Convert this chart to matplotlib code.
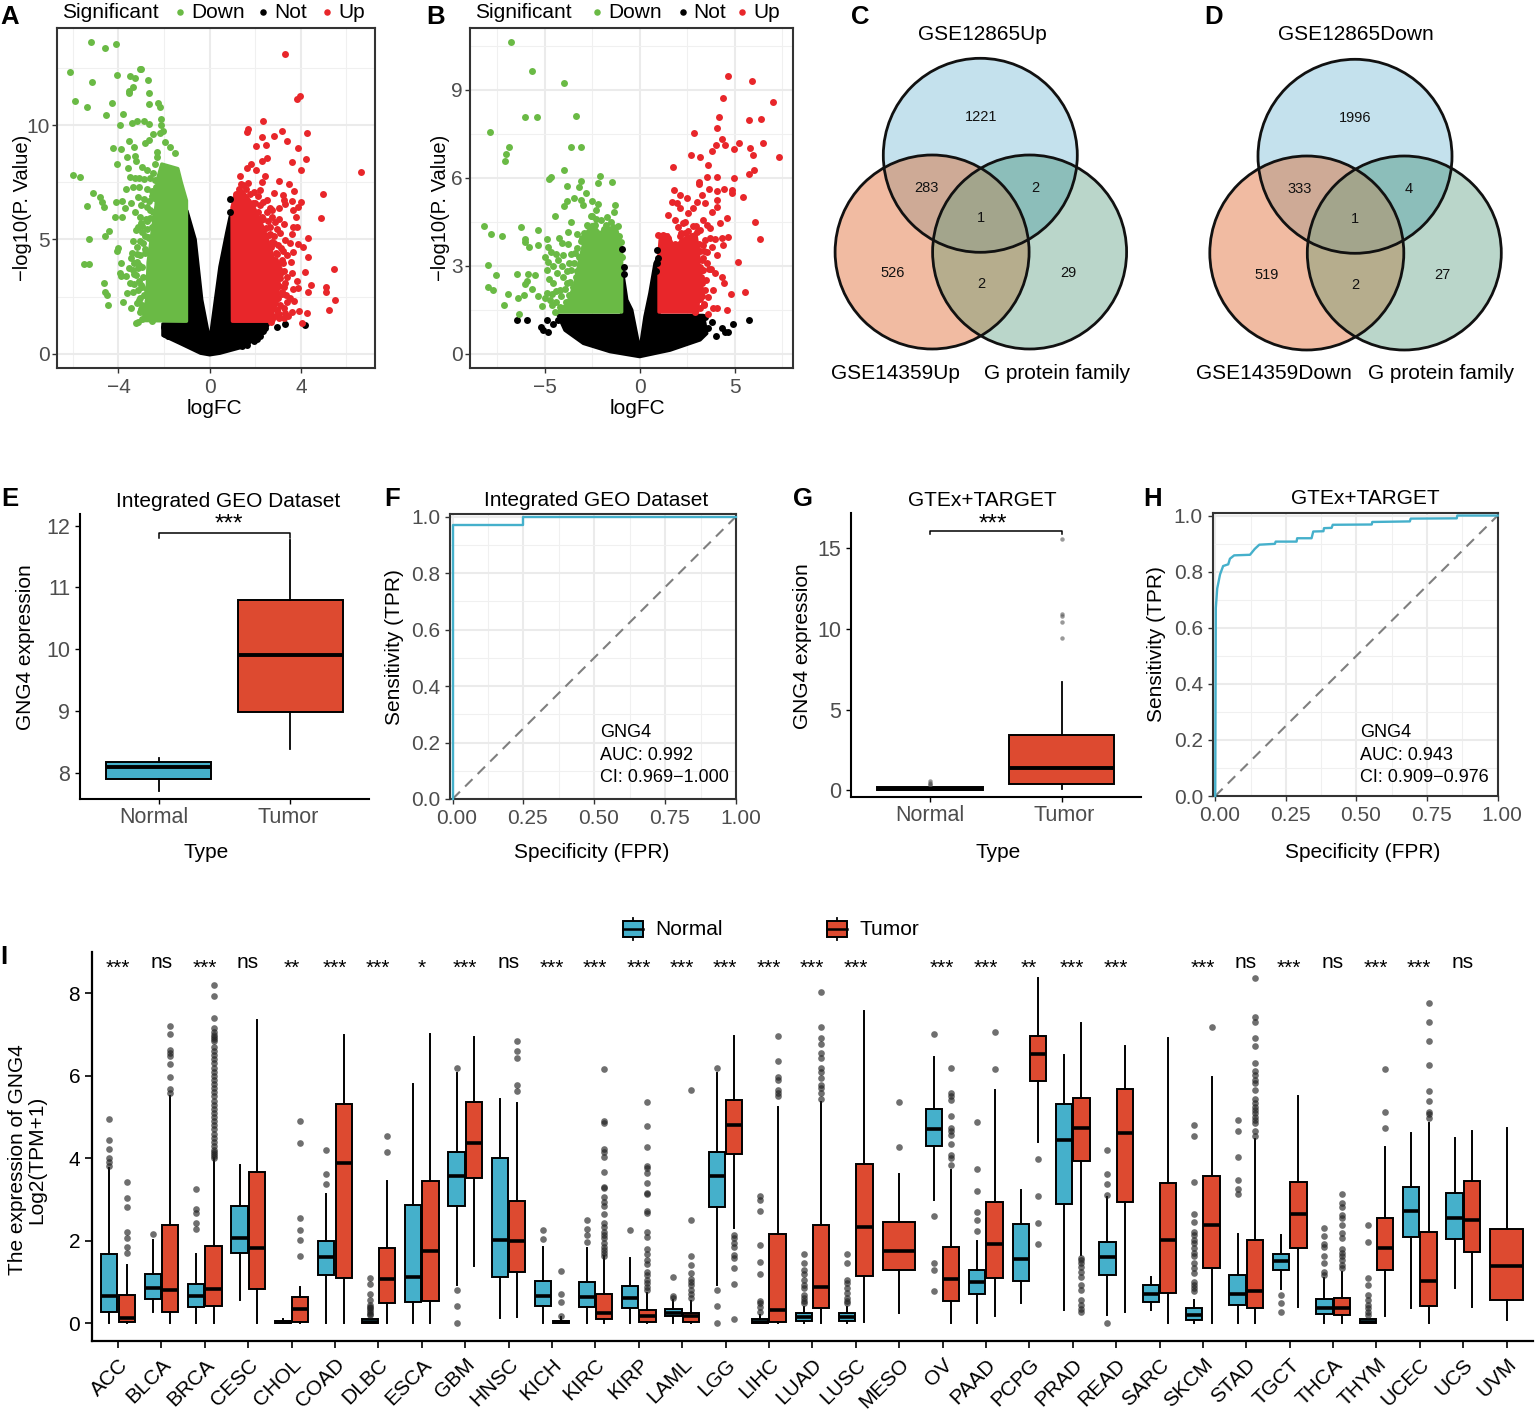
import numpy as np
import matplotlib
matplotlib.use("Agg")
from matplotlib import pyplot as plt
from matplotlib.patches import Circle, Rectangle
from matplotlib.transforms import ScaledTranslation

plt.rcParams['font.family'] = ['Liberation Sans', 'DejaVu Sans']

W, H = 1537, 1418
FS = 15
GREY = '#4d4d4d'
BLUE = '#45b0cb'
RED = '#dd4a30'
V_GREEN = '#6aba45'
V_RED = '#e8262a'

# panel A, single points that can be read
a_down_x = [-5.21,-4.57,-4.11,-6.13,-5.18,-4.07,-3.06,-3.0,-3.5,-3.27,-2.71,-5.89,-5.36,-4.3,-4.55,-3.81,-3.35,-3.53,-3.56,-2.66,-2.68,-2.25,-2.2,-2.15,-3.92,-3.4,-3.18,-2.9,-2.68,-2.12,-2.04,-2.18,-2.5,-2.65,-2.84,-3.53,-3.32,-4.23,-3.88,-1.96,-1.74,-1.52,-2.33,-3.62,-3.29,-3.24,-4.08,-2.99,-3.57,-2.77,-3.5,-3.28,-5.99,-5.7,-5.11,-4.79,-4.74,-4.64,-5.37,-4.11,-3.84,-3.72,-4.16,-3.84,-3.69,-3.35,-3.09,-3.13,-3.43,-3.28,-3.06,-2.77,-3.24,-2.99,-5.3,-4.58,-4.42,-4.01,-4.08,-5.52,-5.31,-3.87,-3.47,-3.38,-3.21,-2.91,-3.94,-3.88,-3.35,-3.13,-2.91,-3.5,-4.64,-4.58,-4.49,-4.47,-3.62,-3.79,-3.43,-3.09,-3.06,-3.13,-3.24,-2.55,-2.77,-2.99,-2.4,-2.55,-2.62,-2.75,-2.7,-2.85,-2.35,-2.5,-2.45,-2.3,-2.42,-2.55,-2.85,-3.02,-3.18,-3.3,-2.95,-2.65,-2.8,
            -2.3,-2.4,-2.5,-2.6,-2.35,-2.55,-2.75,-2.9,-3.1,-2.45,-2.65,-2.9,-3.0,-2.5,-2.62,-2.8,-3.0,-3.15,-2.55,-2.75,-2.85,-2.65,-3.05,-3.2,-3.05,-2.85,-3.4,-3.3,-3.1,-2.95,-3.55,-3.65,-3.25,-3.1,-3.3,-3.15,-3.35,-2.9,-3.05,-3.2,-2.95,-3.0,-2.85,-2.75,-2.95]
a_down_y = [13.64,13.4,13.58,12.34,11.91,12.2,12.47,12.45,12.16,12.07,11.99,11.05,10.8,10.98,10.47,10.48,11.69,11.52,11.4,11.4,10.95,10.96,10.79,10.29,10.03,10.12,10.18,10.2,10.06,10.01,9.77,9.65,9.61,9.36,9.24,9.33,9.07,9.02,8.96,9.28,9.04,8.77,8.85,8.61,8.66,8.44,8.32,8.19,8.12,8.04,7.75,7.68,7.84,7.72,7.02,6.85,6.66,6.41,6.48,6.63,6.69,6.36,5.99,5.99,7.21,7.28,7.31,6.88,6.61,6.22,6.0,6.44,5.42,5.34,5.02,5.14,5.37,4.61,4.51,3.94,3.94,3.96,4.18,4.95,4.69,4.83,3.52,3.4,3.66,3.74,3.37,3.08,3.09,2.7,2.58,2.12,2.64,2.28,1.99,2.35,1.84,1.4,1.33,1.45,2.79,2.93,7.6,6.9,6.3,5.8,5.1,4.6,4.2,3.7,3.2,2.7,2.3,1.9,2.1,3.0,4.0,3.5,5.6,1.7,2.55,
            8.6,8.3,7.9,7.7,7.3,7.1,7.2,7.65,7.7,6.8,6.7,6.75,6.5,6.2,5.95,5.9,5.7,5.55,5.55,5.45,5.15,5.05,4.95,4.35,4.3,4.4,4.4,3.95,3.9,3.8,3.75,3.4,3.45,3.2,3.05,2.8,2.7,2.55,2.45,2.2,2.15,1.95,1.75,1.6,1.5]
a_up_x = [3.31,3.94,3.82,6.62,2.34,1.7,1.65,2.31,2.83,3.15,3.37,4.28,2.05,2.46,3.87,2.5,2.31,3.6,4.23,1.8,1.63,2.02,4.01,1.33,2.43,2.28,3.05,3.48,1.38,1.7,2.21,1.95,2.8,3.7,3.21,4.99,3.26,3.63,2.5,4.0,3.31,2.21,1.99,2.65,3.02,3.67,3.89,4.89,3.79,2.24,2.72,3.02,3.24,3.67,3.85,3.6,2.65,2.83,3.31,4.29,3.87,3.53,4.08,3.13,3.67,4.33,3.38,3.57,5.46,3.21,4.19,3.6,3.38,3.82,4.44,3.24,3.89,5.11,5.08,4.29,3.67,3.16,3.53,5.48,3.38,2.8,5.23,3.6,3.92,4.26,3.31,2.94,3.24,4.04,3.06,2.68,2.1,2.35,2.6,2.75,2.9,3.0,2.85,3.1,2.95,3.15,2.7,
          1.3,1.15,1.45,1.6,1.75,1.55,1.9,2.1,2.35,2.5,2.75,2.3,2.55,2.85,2.45,2.95,3.1,2.65,2.8,3.0,3.2,2.7,2.95,3.15,2.95,3.05,3.25,3.1,3.3,3.05,3.15,3.35,3.0,3.1,3.25,2.95,2.85,3.05,2.75,3.45,3.7]
a_up_y = [13.11,11.3,11.14,7.96,10.18,9.84,9.72,9.5,9.53,9.77,9.31,9.65,9.09,9.14,9.02,8.55,8.44,8.38,8.53,8.29,8.12,8.04,8.04,7.8,7.8,7.53,7.55,7.43,7.43,7.46,7.17,7.09,7.02,7.12,6.95,6.99,6.73,6.69,6.73,6.66,6.55,6.51,6.58,6.36,6.36,6.29,6.44,5.96,5.99,5.85,6.0,5.88,5.68,5.56,5.56,5.23,5.56,5.15,4.98,5.08,4.8,4.83,4.69,4.61,4.47,4.22,4.32,4.03,3.69,3.96,3.59,3.55,3.37,3.2,3.01,2.93,2.86,2.93,2.72,2.72,2.82,2.64,2.42,2.35,2.28,2.2,1.91,1.84,1.87,1.8,1.77,1.91,1.55,1.36,1.55,1.4,6.2,5.9,5.2,4.9,4.4,3.9,4.1,3.5,3.1,2.6,3.7,
          7.2,7.0,7.4,7.2,7.0,6.8,6.6,6.9,6.65,6.2,6.3,6.0,5.8,5.75,5.5,5.45,5.3,5.25,4.85,4.75,4.5,4.65,4.35,4.1,3.95,3.7,3.6,3.3,3.1,2.95,2.7,2.55,2.45,2.15,2.0,1.9,1.65,1.75,1.5,1.65,2.3]
a_not_x = [4.16,3.31,2.97,2.06,1.63,2.43,0.89,0.89,-2.0,-1.95,-1.85,2.35,2.2,1.95,1.4]
a_not_y = [1.26,1.28,1.18,0.63,0.38,1.11,6.76,6.2,1.15,0.85,0.75,1.0,0.75,0.55,0.35]

# panel A, saturated areas: outline of each blob
a_green_x = [-1.02,-1.02,-1.25,-1.4,-2.1,-2.3,-2.35,-2.5,-2.7,-2.75,-2.9,-1.02]
a_green_y = [1.42,6.7,7.5,8.1,8.3,7.6,6.5,5.5,4.0,2.5,1.45,1.42]
a_red_x = [1.0,0.98,1.1,1.45,1.9,2.4,2.7,3.0,3.0,2.6,1.0]
a_red_y = [1.42,6.4,6.9,7.1,6.5,5.4,4.5,3.5,2.35,1.42,1.42]
a_black_x = [-2.05,-1.02,-1.0,-0.64,-0.35,-0.03,0.03,0.45,0.75,0.9,0.98,1.0,2.58,2.35,1.48,0.45,0,-0.4,-1.3,-2.05]
a_black_y = [1.3,1.3,6.25,5.0,2.35,0.7,0.7,3.8,5.3,6.0,6.1,1.3,1.3,0.9,0.3,0.02,-0.05,0.02,0.45,0.8]

# panel B, single points
b_down_x = [-6.77,-5.68,-3.98,-6.04,-5.4,-3.37,-7.86,-6.88,-7.02,-7.11,-3.63,-3.11,-4.0,-4.67,-4.79,-2.11,-3.07,-2.21,-1.47,-3.81,-3.18,-2.84,-3.44,-3.11,-3.84,-3.98,-2.96,-2.51,-2.18,-1.32,-1.35,-2.3,-4.44,-2.58,-1.74,-3.61,-8.19,-6.23,-5.33,-7.84,-7.23,-3.77,-3.32,-4.88,-6.04,-6.02,-5.84,-5.33,-4.23,-4.11,-3.75,-4.81,-4.67,-4.42,-4.98,-4.81,-4.02,-3.4,-3.14,-2.96,-3.7,-7.98,-7.56,-6.47,-5.86,-5.49,-5.95,-6.02,-7.96,-7.74,-5.65,-6.93,-6.07,-6.39,-5.33,-4.89,-4.63,-4.98,-4.72,-7.14,-5.12,-4.4,-6.37,-4.44,-3.93,-4.37,-4.02,-4.54,-3.84,-4.19,-3.49,-3.32,-3.05,-2.79,-3.49,-1.5,-1.15,-2.05,-2.35,-2.7,
            -1.1,-1.4,-1.75,-1.9,-2.3,-2.5,-2.75,-2.95,-3.1,-3.3,-3.2,-3.45,-3.6,-3.35,-3.85,-4.1,-3.65,-3.95,-4.15,-3.7,-4.4,-4.55,-4.6,-4.2,-3.9,-4.75,-4.9,-4.3,-3.6,-2.55,-1.0,-0.95]
b_down_y = [10.61,9.63,9.24,8.07,8.07,8.11,7.55,7.05,6.82,6.56,7.06,7.05,6.26,6.02,5.95,6.06,5.9,5.81,5.86,5.72,5.69,5.47,5.3,5.24,5.2,5.03,5.07,5.2,5.1,5.05,4.84,4.88,4.69,4.7,4.67,4.5,4.35,4.3,4.22,4.08,4.01,4.16,4.07,3.91,3.92,3.81,3.65,3.69,3.93,3.78,3.73,3.63,3.45,3.4,3.28,3.14,3.35,3.42,3.31,3.14,3.08,3.01,2.68,2.72,2.72,2.67,2.49,2.38,2.27,2.16,2.19,2.02,2.01,1.91,1.97,2.08,2.02,1.89,1.83,1.66,1.63,1.77,1.34,1.43,1.55,2.74,2.62,2.97,2.4,2.17,2.28,2.8,3.93,4.1,2.06,4.5,4.35,4.55,4.4,4.35,
            4.0,4.3,4.4,4.25,4.6,4.7,4.4,4.1,3.85,3.6,3.3,3.1,2.85,2.6,2.8,3.0,2.45,2.2,1.95,2.0,2.15,2.4,1.65,1.6,1.75,2.55,2.85,3.2,3.4,4.25,3.8,3.3]
b_up_x = [4.67,5.91,4.39,7.0,4.16,5.75,6.4,4.05,2.84,4.33,5.23,6.47,4.0,4.51,3.82,4.96,5.81,2.72,3.18,5.96,7.33,3.58,1.74,6.0,5.75,3.56,4.05,3.12,3.14,4.96,1.81,3.67,4.09,4.44,4.84,4.86,2.12,3.26,2.47,5.42,4.05,1.68,1.95,3.0,3.44,4.05,2.12,2.82,3.79,6.05,1.51,1.86,2.56,4.58,3.35,4.23,2.3,3.7,2.56,3.0,6.32,4.67,4.32,3.44,0.98,3.79,4.4,3.35,4.05,5.19,3.26,3.67,3.96,4.35,4.44,3.26,3.44,3.88,5.54,4.79,3.61,3.18,3.84,4.05,4.58,3.61,2.91,1.35,1.2,1.55,2.2,2.95,3.2,3.35,3.55,3.15,3.25,3.4,
          1.15,1.25,1.5,1.6,1.85,2.1,2.25,2.4,2.6,2.75,2.9,3.1,3.2,3.3,3.4,3.15,3.25,3.35,3.5,3.15,3.3,3.15,3.4,3.55,3.75,3.55,3.7,3.95,2.8,2.4,2.0]
b_up_y = [9.45,9.31,8.72,8.59,8.05,7.95,7.99,7.69,7.51,7.31,7.17,7.17,7.1,7.1,6.92,6.98,7.02,6.76,6.69,6.76,6.7,6.42,6.35,6.25,6.13,6.01,6.01,5.86,5.78,5.97,5.59,5.61,5.55,5.6,5.58,5.49,5.41,5.41,5.3,5.35,5.24,5.18,5.13,5.18,5.15,5.01,4.95,4.95,4.84,4.47,4.73,4.56,4.78,4.61,4.56,4.44,4.44,4.27,4.18,4.16,3.9,3.99,3.93,3.88,4.05,3.65,3.7,3.25,3.36,3.14,2.85,2.88,2.74,2.62,2.42,2.4,2.17,2.17,2.1,2.03,1.94,1.55,1.55,1.57,1.5,1.34,1.41,3.85,3.95,3.6,4.1,4.35,4.2,3.7,3.45,2.8,2.1,1.7,
          3.95,4.05,3.95,3.7,3.75,4.0,3.85,4.1,3.95,4.0,3.7,3.75,3.5,3.2,3.5,2.95,2.6,2.85,2.5,2.25,1.95,1.85,1.65,3.1,2.9,4.4,3.95,3.9,4.35,4.5,4.3]
b_not_x = [-0.95,0.89,0.98,-6.47,-5.91,-4.89,-5.21,-5.07,-4.81,-4.54,5.77,4.93,3.79,4.32,4.49,4.67,4.0,3.44,3.61,-0.85,-0.8,0.9,0.85,-4.3]
b_not_y = [3.56,3.53,3.25,1.14,1.13,1.15,0.92,0.81,0.73,1.01,1.14,1.0,1.09,0.86,0.75,0.73,0.6,1.26,0.86,2.95,2.7,3.1,2.8,1.15]

b_green_x = [-0.95,-0.95,-1.2,-1.7,-2.1,-2.5,-2.85,-3.15,-3.4,-3.8,-4.3,-0.95]
b_green_y = [1.42,3.5,4.2,4.3,4.1,4.4,4.0,3.2,2.4,1.7,1.42,1.42]
b_red_x = [1.02,1.02,1.1,1.5,1.8,2.3,2.95,3.1,3.15,3.05,1.02]
b_red_y = [1.42,3.4,4.05,4.05,3.6,3.9,4.1,3.5,2.4,1.42,1.42]
b_black_x = [-4.28,-0.95,-0.95,-0.68,-0.42,-0.07,0.07,0.28,0.54,0.81,0.98,1.02,3.35,3.53,3.18,1.6,0,-1.56,-2.96,-3.93]
b_black_y = [1.3,1.3,3.0,1.83,1.49,0.35,0.35,1.26,2.06,3.08,3.3,1.3,1.3,0.69,0.47,0.12,-0.1,0.07,0.35,0.8]

# panels C and D
venn_c_counts = ['1221', '283', '2', '1', '526', '2', '29']
venn_d_counts = ['1996', '333', '4', '1', '519', '2', '27']

# panel E
e_labels = ['Normal', 'Tumor']
e_q1 = [7.89, 8.99]
e_med = [8.1, 9.91]
e_q3 = [8.17, 10.8]
e_lo = [7.7, 8.38]
e_hi = [8.24, 11.77]

# panel G
g_q1 = [0.03, 0.39]
g_med = [0.1, 1.39]
g_q3 = [0.17, 3.42]
g_lo = [0.0, 0.05]
g_hi = [0.2, 6.69]
g_out_normal = [0.3, 0.38, 0.45, 0.55]
g_out_tumor = [9.42, 10.43, 10.83, 10.95, 15.61]

# ROC curves
f_fpr = [0, 0, 0.25, 0.25, 1]
f_tpr = [0, 0.969, 0.969, 1.0, 1.0]
h_fpr = [0, 0.002, 0.007, 0.017, 0.028, 0.046, 0.052, 0.067, 0.123, 0.14, 0.156, 0.211, 0.214, 0.288, 0.29, 0.341, 0.347, 0.383, 0.385, 0.412, 0.416, 0.554, 0.556, 0.689, 0.692, 0.855, 0.857, 1]
h_tpr = [0, 0.67, 0.74, 0.79, 0.82, 0.826, 0.846, 0.858, 0.86, 0.881, 0.896, 0.899, 0.907, 0.907, 0.919, 0.919, 0.943, 0.944, 0.955, 0.956, 0.967, 0.968, 0.977, 0.979, 0.989, 0.99, 1.0, 1.0]

# panel I
cancers = ['ACC','BLCA','BRCA','CESC','CHOL','COAD','DLBC','ESCA','GBM','HNSC','KICH','KIRC','KIRP','LAML','LGG','LIHC','LUAD','LUSC','MESO','OV','PAAD','PCPG','PRAD','READ','SARC','SKCM','STAD','TGCT','THCA','THYM','UCEC','UCS','UVM']
sig = ['***','ns','***','ns','**','***','***','*','***','ns','***','***','***','***','***','***','***','***','','***','***','**','***','***','','***','ns','***','ns','***','***','ns','']
nan = float('nan')
n_q1 = [.27,.59,.4,1.71,0,1.16,0,.52,2.84,1.11,.43,.4,.37,.18,2.83,0,.05,.05,nan,4.3,.72,1.03,2.89,1.16,.51,.07,.45,1.29,.22,0,2.08,2.04,nan]
n_med = [.65,.86,.67,2.06,.02,1.6,.02,1.11,3.57,2.02,.66,.63,.62,.26,3.56,.02,.15,.16,nan,4.72,.99,1.55,4.44,1.6,.72,.19,.72,1.5,.38,.02,2.71,2.56,nan]
n_q3 = [1.69,1.2,.95,2.84,.05,2.0,.1,2.87,4.16,4.0,1.03,.99,.91,.35,4.16,.1,.25,.24,nan,5.2,1.3,2.4,5.31,1.96,.92,.36,1.16,1.67,.58,.1,3.31,3.15,nan]
n_lo = [0,.28,0,.57,0,0,0,0,.93,.12,0,0,0,0,.93,0,0,0,nan,3.0,0,.5,.32,.2,.32,0,0,.83,0,0,.38,.85,nan]
n_hi = [3.76,2.02,1.67,3.84,.1,3.13,.1,5.79,6.06,5.43,1.86,1.82,1.59,.57,6.06,.2,.4,.4,nan,6.46,2.0,3.23,6.51,3.05,1.11,.57,2.17,2.13,1.09,.1,4.61,4.48,nan]
t_q1 = [.02,.27,.43,.83,.04,1.09,.49,.54,3.52,1.24,0,.1,.04,.02,4.1,.04,.37,1.15,1.28,.55,1.09,5.87,3.93,2.95,.74,1.35,.36,1.83,.19,1.28,.42,1.73,.56]
t_med = [.12,.81,.83,1.83,.34,3.89,1.07,1.75,4.37,1.99,.02,.25,.18,.18,4.81,.32,.89,2.33,1.75,1.07,1.91,6.52,4.74,4.62,2.02,2.38,.78,2.64,.36,1.83,1.02,2.5,1.4]
t_q3 = [.69,2.39,1.87,3.66,.63,5.31,1.82,3.45,5.37,2.97,.06,.71,.33,.25,5.41,2.17,2.38,3.85,2.46,1.86,2.95,6.97,5.47,5.69,3.41,3.57,2.03,3.43,.61,2.56,2.22,3.46,2.29]
t_lo = [0,0,0,0,0,0,0,0,1.39,.15,0,0,0,0,2.3,0,0,.04,.26,0,.18,4.39,1.66,.28,0,0,0,.4,0,.18,0,.39,.08]
t_hi = [1.41,5.5,4.0,7.34,.87,7.0,3.45,7.01,6.95,5.33,.15,1.62,.73,.53,6.97,5.25,5.37,7.58,3.62,3.72,5.66,8.36,7.29,6.72,6.91,5.96,4.46,5.51,1.25,4.27,4.85,4.67,4.74]

n_out = {
    'ACC': [4.95,4.44,4.22,4.0,3.92,3.81],
    'BLCA': [2.17],
    'BRCA': [3.26,2.76,2.67,2.44,2.29],
    'CHOL': [],
    'COAD': [4.19,3.62,3.37],
    'DLBC': [1.09,.95,.7,.57,.44,.36,.28,.23,.4,.32,.2],
    'GBM': [6.18,.81,.43,0],
    'KICH': [2.26,2.05],
    'KIRC': [2.5,2.28,2.14,1.96],
    'KIRP': [2.26],
    'LAML': [1.12,.61,.65],
    'LGG': [6.18,.81,.43,0],
    'LIHC': [3.09,2.99,2.73,1.89,1.48,1.2,.55,.48,.4,.28],
    'LUAD': [1.68,1.47,1.29,1.2,1.05,.93,.85,.69,.61,.53,.48],
    'LUSC': [1.68,1.45,1.05,.97,.85,.73,.61,.53,.48],
    'OV': [7.01,2.6,1.45,1.3,.79],
    'PAAD': [4.89,3.74,3.21,2.69,2.5,2.24],
    'READ': [4.19,3.63,3.37,3.1,0],
    'SKCM': [4.8,4.54,3.42,2.65,2.46,2.22,2.14,2.02,1.94,1.82,1.7,1.62,1.45,1.33,1.21,1.01,.93,.85,.77],
    'STAD': [4.92,4.67,4.02,3.47,3.26,3.14],
    'TGCT': [.69,.49,.27],
    'THCA': [2.3,2.12,1.92,1.84,1.62,1.45,1.25,1.17],
    'THYM': [2.38,1.98,1.09,.93,.69,.57,.44,.36,.28,.2],
}
t_out = {
    'ACC': [3.42,3.03,2.83,2.22,2.06,1.86,1.71],
    'BLCA': [7.2,7.01,6.63,6.56,6.49,6.28,5.98,5.67,5.59],
    'BRCA': [4.0,4.05,4.1,4.15,4.2,4.3,4.4,4.5,4.6,4.7,4.8,4.9,5.0,5.1,5.2,5.3,5.4,5.5,5.6,5.7,5.8,5.9,6.0,6.1,6.2,6.3,6.4,6.5,6.6,6.7,6.85,6.9,6.95,7.0,7.05,7.15,7.39,7.94,8.2],
    'CHOL': [4.91,4.38,2.55,2.25,2.02,1.62],
    'DLBC': [4.54,4.15],
    'HNSC': [6.84,6.61,6.44,5.78,5.62],
    'KICH': [1.26,.72,.52,.18],
    'KIRC': [6.17,4.91,4.85,4.23,4.15,4.02,3.67,3.31,3.27,3.05,2.95,2.84,2.65,2.42,2.34,2.22,2.14,2.06,1.94,1.86,1.78,1.7,1.63],
    'KIRP': [5.36,4.79,4.27,3.81,3.77,3.64,3.41,3.15,3.13,2.71,2.68,2.22,2.08,1.8,1.67,1.54,1.44,1.25,1.17,1.05,.97,.89,.81],
    'LAML': [5.66,2.5,1.62,1.41,1.21,1.07,.99,.93,.81,.71,.61],
    'LGG': [2.14,2.06,1.94,1.84,1.66,1.58,1.33,.94,.1],
    'LIHC': [6.97,6.36,5.96,5.9,5.66,5.59,5.51],
    'LUAD': [8.02,7.18,6.91,6.76,6.55,6.42,6.18,6.1,5.94,5.78,5.7,5.58,5.44],
    'MESO': [5.37,4.27],
    'OV': [6.2,5.59,5.52,5.41,5.03,4.73,4.65,4.57,4.34,4.08,4.0,3.84],
    'PAAD': [7.05,6.17],
    'PCPG': [3.97,3.09,2.43,1.92],
    'PRAD': [1.59,1.54,1.45,1.37,1.25,1.13,.93,.81,.57,.44,.35,.27],
    'SKCM': [7.17],
    'STAD': [8.36,7.43,7.3,6.91,6.71,6.3,6.12,6.02,5.9,5.82,5.66,5.44,5.35,5.25,5.17,5.09,5.01,4.93,4.85,4.67,4.55],
    'THCA': [3.13,2.91,2.83,2.63,2.55,2.38,2.18,2.06,1.79,1.7,1.62,1.54,1.41,1.33],
    'THYM': [6.17,5.12,4.73],
    'UCEC': [7.76,7.3,6.85,6.26,5.63,5.39,5.13,5.07,4.97],
}


fig = plt.figure(figsize=(W / 100, H / 100), dpi=100)

# overlay in picture pixels, only for labels and the venn circles
ov = fig.add_axes([0, 0, 1, 1], zorder=10)
ov.set_xlim(0, W)
ov.set_ylim(H, 0)
ov.axis('off')
ov.patch.set_alpha(0)


def put(x, y, txt, size=FS, ha='center', **kw):
    # va center of Liberation sits a bit high
    ov.text(x, y + 1.5, txt, fontsize=size, ha=ha, va='center', **kw)


def px_axes(l, t, r, b):
    return fig.add_axes([l / W, 1 - b / H, (r - l) / W, (b - t) / H])


def labels(ax, xlabel, xpos, ylabel, ypos, ysize=FS):
    ax.set_xlabel(xlabel, fontsize=FS, va='center', ha='center')
    ax.xaxis.set_label_coords(xpos[0], xpos[1] + 1, transform=ov.transData)
    ax.set_ylabel(ylabel, fontsize=ysize, va='center', ha='center')
    ax.yaxis.set_label_coords(ypos[0], ypos[1], transform=ov.transData)


def shift_x_labels(ax, dxs):
    for lab, dx in zip(ax.xaxis.get_majorticklabels(), dxs):
        lab.set_transform(lab.get_transform() + ScaledTranslation(dx / 100, 0, fig.dpi_scale_trans))


def framed(ax, xticks, xminor, yticks, yminor, size, xfmt=None, ypad=3.5):
    ax.set_xticks(xticks)
    ax.set_yticks(yticks)
    ax.set_xticks(xminor, minor=True)
    ax.set_yticks(yminor, minor=True)
    if xfmt:
        ax.set_xticklabels([xfmt % v for v in xticks])
    ax.grid(True, which='major', color='#ebebeb', lw=1.5)
    ax.grid(True, which='minor', color='#f0f0f0', lw=0.8)
    ax.set_axisbelow(True)
    ax.tick_params(which='minor', length=0)
    ax.tick_params(which='major', labelsize=size, labelcolor=GREY, color='#333333', length=3.5, width=1)
    ax.tick_params(axis='y', which='major', pad=ypad)
    for s in ax.spines.values():
        s.set_color('#333333')
        s.set_linewidth(1.5)


def volcano(ax, blobs, points):
    for x, y, c in blobs:
        ax.fill(x, y, color=c, lw=2.5, joinstyle='round', zorder=2)
    for x, y, c in points:
        ax.scatter(x, y, s=25, color=c, linewidths=0, zorder=3)


def top_legend(x0, xs):
    put(x0, 11, 'Significant', ha='left')
    for (dx, tx, name), c in zip(xs, [V_GREEN, 'black', V_RED]):
        ov.scatter([dx], [12], s=22, color=c, linewidths=0)
        put(tx, 11, name, ha='left')


# A
ax = px_axes(56.7, 28, 375, 368)
ax.set_xlim(-6.71, 7.25)
ax.set_ylim(-0.63, 14.26)
framed(ax, [-4, 0, 4], [-6, -2, 2, 6], [0, 5, 10], [2.5, 7.5, 12.5], 15, ypad=1.5)
ax.set_xticklabels(['\u22124', '0', '4'])
volcano(ax,
        [(a_black_x, a_black_y, 'black'), (a_green_x, a_green_y, V_GREEN), (a_red_x, a_red_y, V_RED)],
        [(a_not_x, a_not_y, 'black'), (a_down_x, a_down_y, V_GREEN), (a_up_x, a_up_y, V_RED)])
labels(ax, 'logFC', (214, 407), '\u2212log10(P. Value)', (23, 208), ysize=14.5)
top_legend(62, [(180, 191, 'Down'), (263, 274, 'Not'), (327, 338, 'Up')])

# B
ax = px_axes(470, 28, 793, 368)
ax.set_xlim(-8.93, 8.07)
ax.set_ylim(-0.49, 11.1)
framed(ax, [-5, 0, 5], [-7.5, -2.5, 2.5, 7.5], [0, 3, 6, 9], [1.5, 4.5, 7.5, 10.5], 15, ypad=1.5)
ax.set_xticklabels(['\u22125', '0', '5'])
volcano(ax,
        [(b_black_x, b_black_y, 'black'), (b_green_x, b_green_y, V_GREEN), (b_red_x, b_red_y, V_RED)],
        [(b_not_x, b_not_y, 'black'), (b_down_x, b_down_y, V_GREEN), (b_up_x, b_up_y, V_RED)])
labels(ax, 'logFC', (637, 407), '\u2212log10(P. Value)', (441, 208), ysize=14.5)
top_legend(475, [(597, 608, 'Down'), (683, 693, 'Not'), (742, 753, 'Up')])


# C, D
def lens(circles):
    # intersection of discs is convex, so sort the kept rim points by angle
    pts = []
    t = np.linspace(0, 2 * np.pi, 1500)
    for cx, cy, r in circles:
        px = cx + r * np.cos(t)
        py = cy + r * np.sin(t)
        keep = np.ones_like(t, dtype=bool)
        for ox, oy, orad in circles:
            keep &= (px - ox) ** 2 + (py - oy) ** 2 <= orad ** 2 + 1e-6
        pts.append(np.column_stack([px[keep], py[keep]]))
    pts = np.vstack(pts)
    mid = pts.mean(axis=0)
    return pts[np.argsort(np.arctan2(pts[:, 1] - mid[1], pts[:, 0] - mid[0]))]


def venn(cx, cy, counts, count_pos):
    r = 97
    top = (cx, cy, r)
    left = (cx - 48.2, cy + 96.7, r)
    right = (cx + 49.3, cy + 96.7, r)
    for c, col in zip([top, left, right], ['#c4e1ed', '#f1bba2', '#bad6ca']):
        ov.add_patch(Circle(c[:2], r, fc=col, ec='none'))
    for group, col in [((top, left), '#ceaa96'), ((top, right), '#8cbeba'),
                       ((left, right), '#b6ad8d'), ((top, left, right), '#a3a58c')]:
        ov.fill(*lens(group).T, color=col, lw=0)
    for c in [top, left, right]:
        ov.add_patch(Circle(c[:2], r, fc='none', ec='#111111', lw=2))
    for txt, (x, y) in zip(counts, count_pos):
        put(x, y, txt, size=10.5, color='#111111')


venn(980.3, 155.3, venn_c_counts, [(981, 115.5), (926, 186.5), (1035, 186.5), (981, 216.5), (893, 271.5), (981, 282.5), (1068, 271.5)])
venn(1355, 156.3, venn_d_counts, [(1355, 116.5), (1300, 187.5), (1409, 187.5), (1355, 217.5), (1267, 273.5), (1355, 283.5), (1442, 273.5)])
for x, y, txt in [(982, 33, 'GSE12865Up'), (895, 372, 'GSE14359Up'), (1057, 372, 'G protein family'),
                  (1356, 33, 'GSE12865Down'), (1274, 372, 'GSE14359Down'), (1441, 372, 'G protein family')]:
    put(x, y, txt)


# E, G
def big_box(ax, q1, med, q3, lo, hi, out, ms):
    stats = []
    for i in range(2):
        stats.append(dict(med=med[i], q1=q1[i], q3=q3[i], whislo=lo[i], whishi=hi[i], fliers=out[i]))
    parts = ax.bxp(stats, positions=[1, 2], widths=0.8, patch_artist=True, showcaps=False,
                   medianprops=dict(color='black', lw=2.8, solid_capstyle='butt'),
                   whiskerprops=dict(color='black', lw=1.3),
                   boxprops=dict(edgecolor='black', lw=1.4),
                   flierprops=dict(marker='o', ms=ms, mfc='#555555', mec='none', alpha=0.6))
    for b, c in zip(parts['boxes'], [BLUE, RED]):
        b.set_facecolor(c)
    ax.set_xticks([1, 2])
    ax.set_xticklabels(e_labels)
    ax.set_xlim(0.4, 2.6)
    for s in ['top', 'right']:
        ax.spines[s].set_visible(False)
    for s in ['left', 'bottom']:
        ax.spines[s].set_linewidth(1.5)
    ax.tick_params(labelsize=15.5, labelcolor=GREY, length=3.5, width=1)
    ax.tick_params(axis='x', pad=2)


ax = px_axes(80, 514, 369, 799)
big_box(ax, e_q1, e_med, e_q3, e_lo, e_hi, [[], []], 3)
ax.set_ylim(7.574, 12.19)
ax.set_yticks([8, 9, 10, 11, 12])
ax.plot([1, 1, 2, 2], [11.8, 11.89, 11.89, 11.8], color='black', lw=1.1)
labels(ax, 'Type', (206, 852), 'GNG4 expression', (26, 647))
shift_x_labels(ax, [-5, -2])
put(229, 523, '***', size=17.5)
put(228, 500, 'Integrated GEO Dataset')

ax = px_axes(850.7, 513, 1140.7, 797.3)
big_box(ax, g_q1, g_med, g_q3, g_lo, g_hi, [g_out_normal, g_out_tumor], 3.2)
ax.set_ylim(-0.44, 17.2)
ax.set_yticks([0, 5, 10, 15])
ax.plot([1, 1, 2, 2], [15.9, 16.09, 16.09, 15.9], color='black', lw=1.1)
labels(ax, 'Type', (998, 852), 'GNG4 expression', (802, 646))
shift_x_labels(ax, [0, 3])
put(993, 523, '***', size=17.5)
put(982, 499, 'GTEx+TARGET')


# F, H
def roc(ax, fpr, tpr, note, note_x):
    ax.set_xlim(-0.009, 1.0)
    ax.set_ylim(0, 1.009)
    framed(ax, [0, .25, .5, .75, 1], [.125, .375, .625, .875], [0, .2, .4, .6, .8, 1], [.1, .3, .5, .7, .9],
           15, xfmt='%.2f')
    ax.set_yticklabels(['0.0', '0.2', '0.4', '0.6', '0.8', '1.0'])
    ax.plot([0, 1], [0, 1], color='#7f7f7f', lw=1.5, ls=(0, (5, 3.5)), clip_on=False)
    ax.plot(fpr, tpr, color=BLUE, lw=1.7, clip_on=False, zorder=5)
    for i, txt in enumerate(note):
        put(note_x, 731 + 22.5 * i, txt, size=13, ha='left')
    shift_x_labels(ax, [4.5] * 5)


ax = px_axes(450, 514, 736, 799)
roc(ax, f_fpr, f_tpr, ['GNG4', 'AUC: 0.992', 'CI: 0.969\u22121.000'], 600)
labels(ax, 'Specificity (FPR)', (592, 852), 'Sensitivity (TPR)', (394, 647))
put(596, 499, 'Integrated GEO Dataset')

ax = px_axes(1212.7, 513, 1497.7, 796)
roc(ax, h_fpr, h_tpr, ['GNG4', 'AUC: 0.943', 'CI: 0.909\u22120.976'], 1360)
labels(ax, 'Specificity (FPR)', (1363, 852), 'Sensitivity (TPR)', (1157, 644))
put(1365, 497, 'GTEx+TARGET')

# I
ax = px_axes(92, 952, 1532.7, 1341)
ax.set_xlim(0.4, 33.6)
ax.set_ylim(-0.43, 9.0)
ax.set_yticks([0, 2, 4, 6, 8])
ax.set_xticks(range(1, 34))
ax.set_xticklabels(cancers, rotation=45, ha='right', rotation_mode='anchor')
for s in ['top', 'right']:
    ax.spines[s].set_visible(False)
for s in ['left', 'bottom']:
    ax.spines[s].set_linewidth(1.6)
ax.tick_params(labelsize=FS, length=5, width=1.2)
ax.tick_params(axis='x', pad=5)
for i, name in enumerate(cancers):
    pos = i + 1
    single = n_q1[i] != n_q1[i]
    groups = []
    if not single:
        groups.append((pos - 0.2, 0.375, BLUE,
                       dict(med=n_med[i], q1=n_q1[i], q3=n_q3[i], whislo=n_lo[i], whishi=n_hi[i],
                            fliers=n_out.get(name, []))))
    groups.append((pos if single else pos + 0.2, 0.75 if single else 0.375, RED,
                   dict(med=t_med[i], q1=t_q1[i], q3=t_q3[i], whislo=t_lo[i], whishi=t_hi[i],
                        fliers=t_out.get(name, []))))
    for p, wd, col, st in groups:
        ax.bxp([st], positions=[p], widths=wd, patch_artist=True, showcaps=False, manage_ticks=False,
               medianprops=dict(color='black', lw=2.6, solid_capstyle='butt'),
               whiskerprops=dict(color='black', lw=1.4),
               boxprops=dict(facecolor=col, edgecolor='black', lw=1.4),
               flierprops=dict(marker='o', ms=4.8, mfc='#222222', mec='none', alpha=0.65))
    if sig[i]:
        put(118 + 43.375 * i, 961.5 if sig[i] == 'ns' else 966.5, sig[i])
ax.set_ylabel('The expression of GNG4\nLog2(TPM+1)', fontsize=FS, va='center', ha='center', linespacing=1.05)
ax.yaxis.set_label_coords(27, 1160, transform=ov.transData)

# legend of I
for x0, col, txt in [(623, BLUE, 'Normal'), (827, RED, 'Tumor')]:
    ov.plot([x0 + 10, x0 + 10], [918, 940], color='black', lw=1.3)
    ov.add_patch(Rectangle((x0, 921), 20, 16, fc=col, ec='black', lw=1.4, zorder=3))
    ov.plot([x0, x0 + 20], [929, 929], color='black', lw=1.8, zorder=4)
    put(x0 + 32, 928, txt, ha='left')

# panel letters
for x, y, letter in [(10, 15, 'A'), (436, 15, 'B'), (860, 15, 'C'), (1214, 15, 'D'), (10, 497, 'E'),
                     (392, 497, 'F'), (803, 497, 'G'), (1153, 497, 'H'), (4, 955, 'I')]:
    put(x, y, letter, size=18.5, fontweight='bold')

ov.set_xlim(0, W)
ov.set_ylim(H, 0)
fig.savefig('out.png', dpi=100)
